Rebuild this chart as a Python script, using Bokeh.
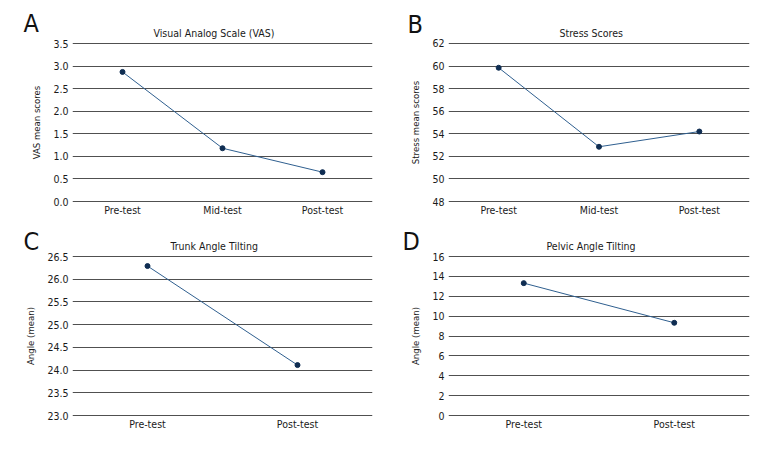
from bokeh.plotting import figure
from bokeh.layouts import gridplot
from bokeh.models import FactorRange, Range1d, Title, SingleIntervalTicker, CustomJSTickFormatter
from bokeh.embed import file_html
from bokeh.resources import INLINE

FONT = "DejaVu Sans Condensed"

# ---- data ----
cats3 = ["Pre-test", "Mid-test", "Post-test"]
cats2 = ["Pre-test", "Post-test"]

vas_values = [2.87, 1.18, 0.65]
stress_values = [59.85, 52.85, 54.2]
trunk_values = [26.29, 24.11]
pelvic_values = [13.32, 9.33]

titles = ["Visual Analog  Scale (VAS)", "Stress Scores", "Trunk Angle Tilting", "Pelvic Angle Tilting"]
ylabels = ["VAS mean scores", "Stress mean scores", "Angle (mean)", "Angle (mean)"]
letters = ["A", "B", "C", "D"]
yranges = [(0.0, 3.5, 0.5), (48, 62, 2), (23.0, 26.5, 0.5), (0, 16, 2)]
decimals = [1, 0, 1, 0]

LINE = "#2f5f8f"
DOT = "#0f2d52"
GRID = "#505050"
TXT = "#1a1a1a"


def panel(cats, vals, title, ylabel, letter, yr, fmt, size, borders, title_off, letter_off, letter_standoff):
    w, h = size
    left, right, top, bottom = borders
    y0, y1, step = yr
    frame_h = h - top - bottom
    eps = (y1 - y0) / frame_h  # one pixel of padding so edge gridlines are drawn
    p = figure(x_range=FactorRange(*cats, range_padding=0), y_range=Range1d(y0 - eps, y1 + eps),
               width=w, height=h, output_backend="svg", toolbar_location=None,
               min_border_left=left, min_border_right=right, min_border_top=top - 1,
               min_border_bottom=bottom - 1)
    # panel letter (outer title)
    p.title.text = letter
    p.title.align = "left"
    p.title.offset = letter_off
    p.title.standoff = letter_standoff
    p.title.vertical_align = "bottom"
    p.title.text_font = FONT
    p.title.text_font_size = "25px"
    p.title.text_font_style = "normal"
    p.title.text_color = "#111111"
    # chart title (nearest the plot)
    p.add_layout(Title(text=title, align="left", offset=title_off, standoff=7,
                       vertical_align="bottom", text_font=FONT, text_font_size="10.5px",
                       text_font_style="normal", text_color=TXT), "above")
    p.outline_line_color = None
    p.xgrid.grid_line_color = None
    p.ygrid.grid_line_color = GRID
    p.ygrid.grid_line_width = 1
    p.yaxis.ticker = SingleIntervalTicker(interval=step)
    p.yaxis.formatter = CustomJSTickFormatter(code=f"return tick.toFixed({fmt});")
    for ax in (p.xaxis, p.yaxis):
        ax.axis_line_color = None
        ax.major_tick_line_color = None
        ax.minor_tick_line_color = None
        ax.major_tick_in = 0
        ax.major_tick_out = 0
        ax.major_label_text_font = FONT
        ax.major_label_text_font_size = "10.5px"
        ax.major_label_text_color = TXT
    p.yaxis.major_label_standoff = 0
    p.xaxis.major_label_standoff = 1
    p.yaxis.axis_label = ylabel
    p.yaxis.axis_label_text_font = FONT
    p.yaxis.axis_label_text_font_size = "9.5px"
    p.yaxis.axis_label_text_font_style = "normal"
    p.yaxis.axis_label_text_color = TXT
    p.yaxis.axis_label_standoff = 8

    p.line(x=cats, y=vals, line_color=LINE, line_width=1)
    p.scatter(x=cats, y=vals, size=5, fill_color=DOT, line_color=DOT)
    return p


pA = panel(cats3, vas_values, titles[0], ylabels[0], letters[0], yranges[0], decimals[0],
           (390, 228), (72, 18, 43, 27), 81, -49, -32)
pB = panel(cats3, stress_values, titles[1], ylabels[1], letters[1], yranges[1], decimals[1],
           (386, 228), (58, 27, 42, 27), 111, -41, -34)
pC = panel(cats2, trunk_values, titles[2], ylabels[2], letters[2], yranges[2], decimals[2],
           (390, 224), (72, 18, 28, 37), 98, -49, -42)
pD = panel(cats2, pelvic_values, titles[3], ylabels[3], letters[3], yranges[3], decimals[3],
           (386, 224), (58, 27, 28, 37), 98, -46, -42)

grid = gridplot([[pA, pB], [pC, pD]], toolbar_location=None)

open("out.html", "w").write(file_html(grid, INLINE))
